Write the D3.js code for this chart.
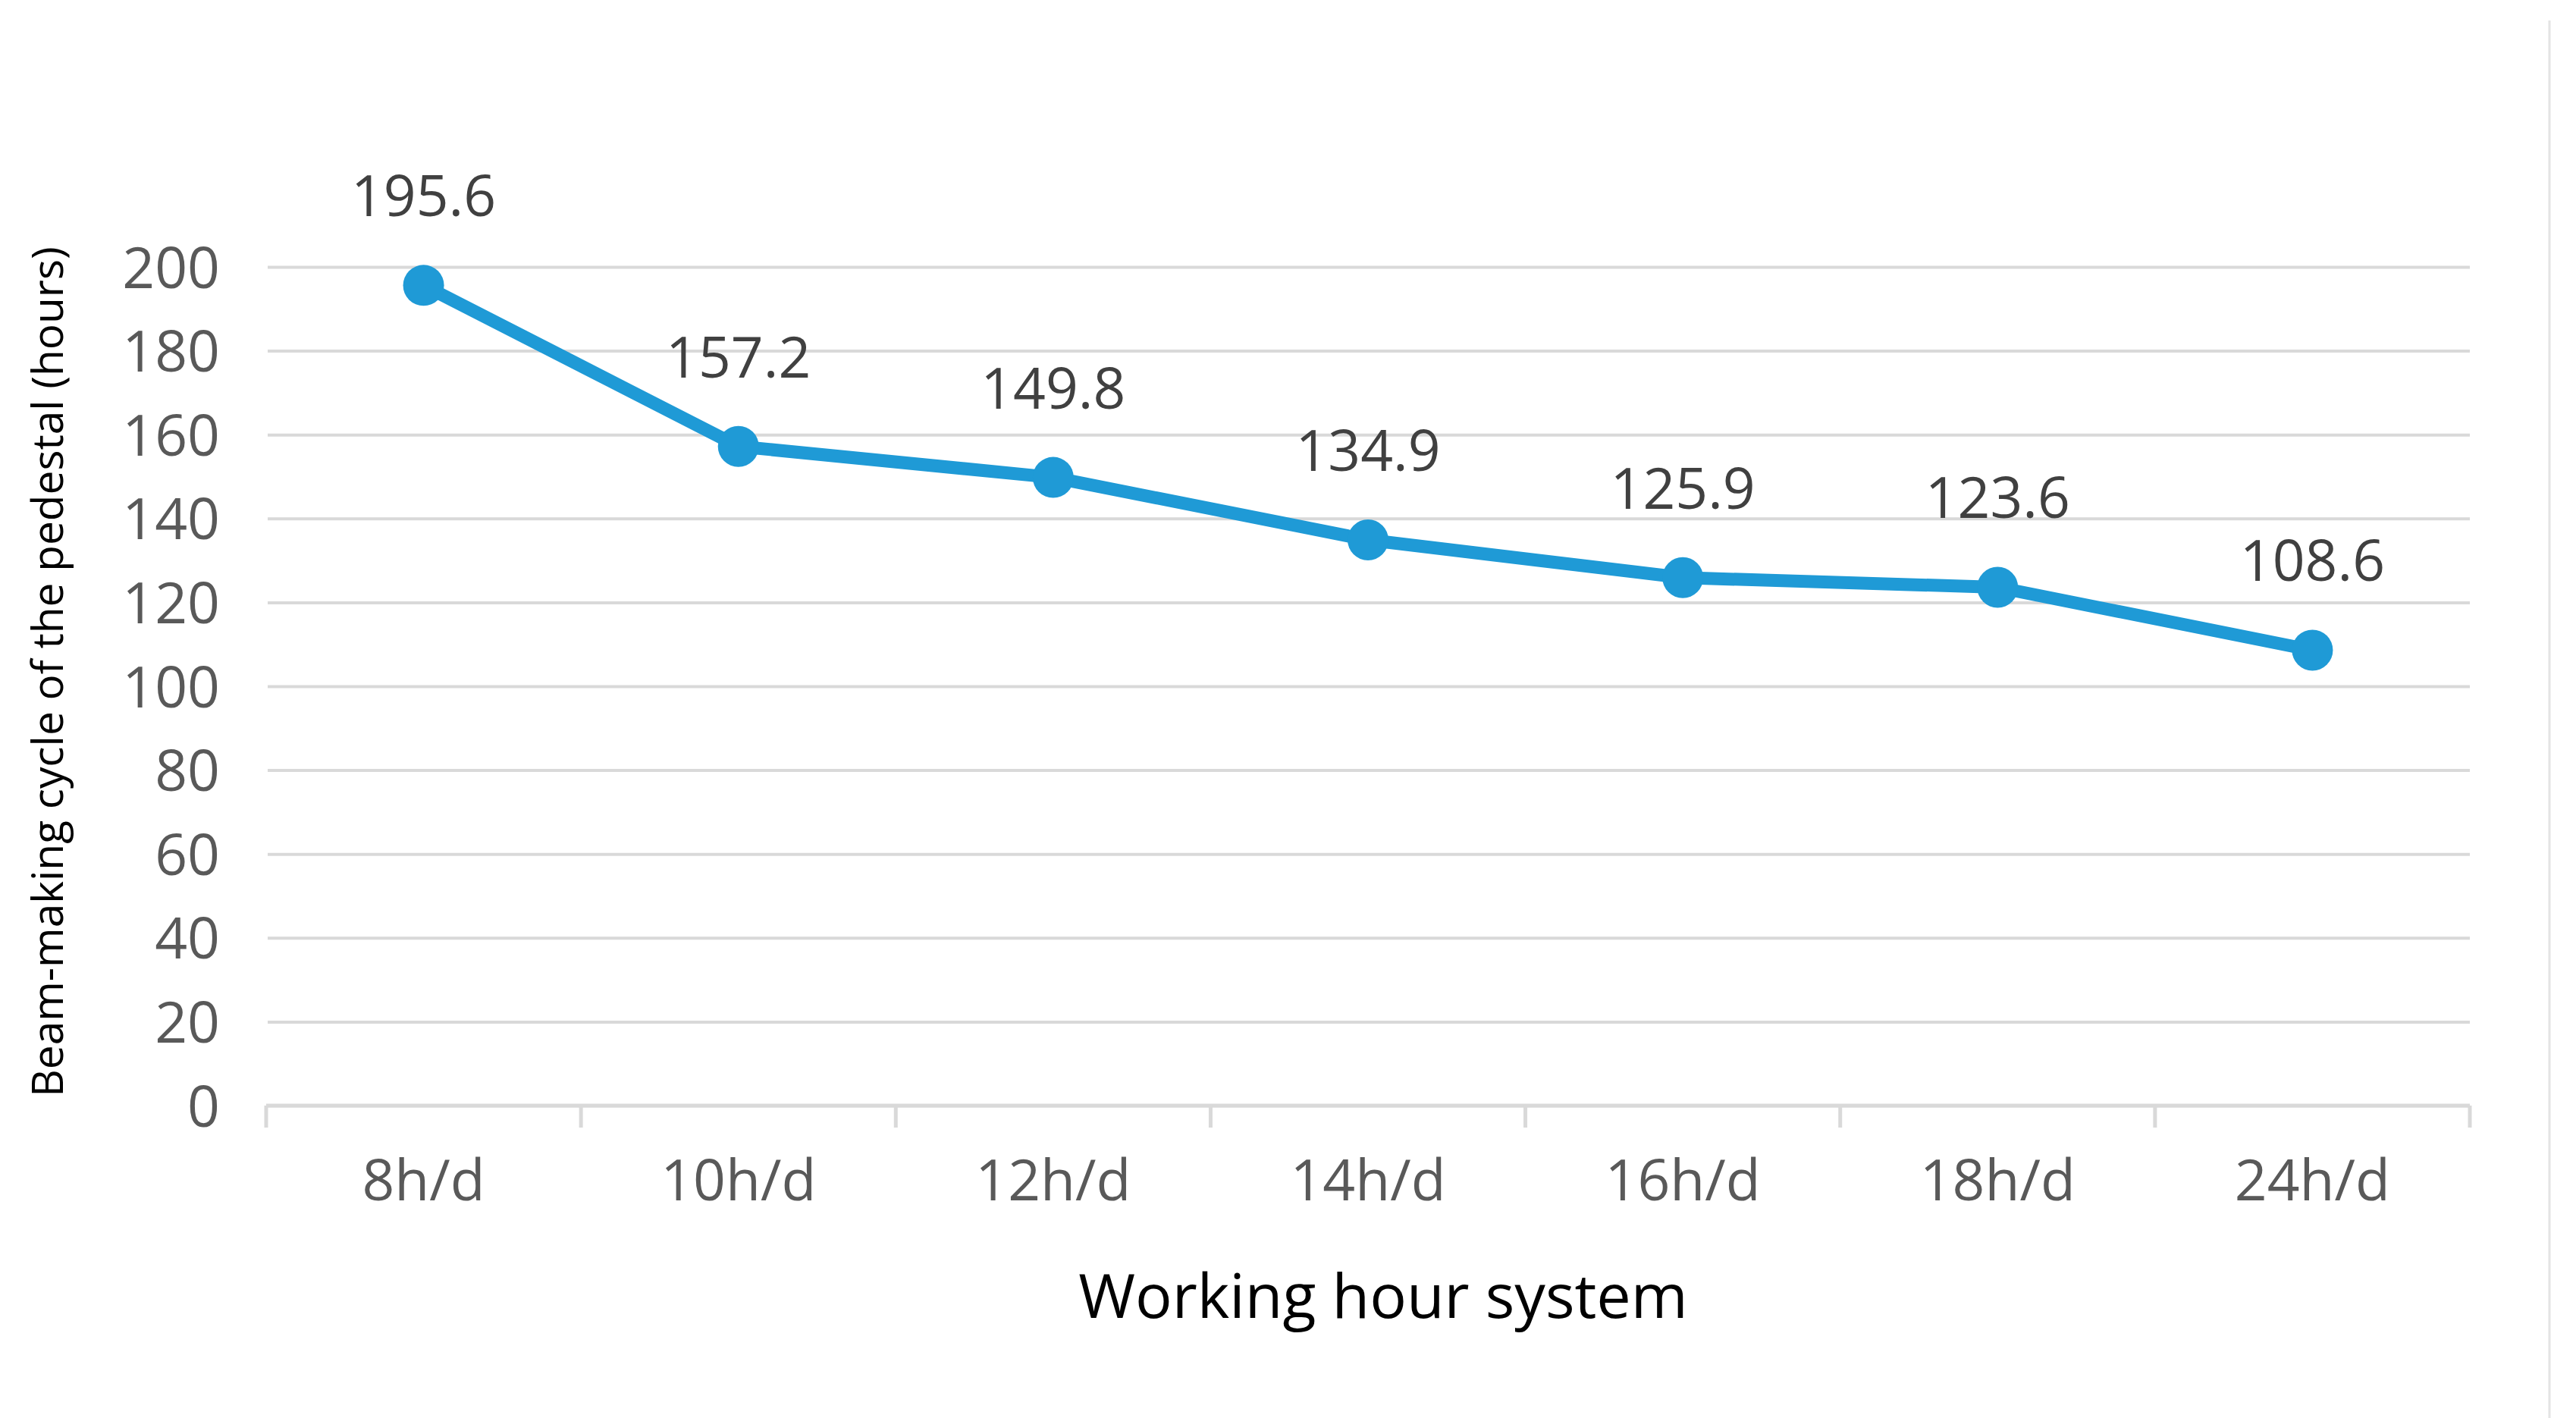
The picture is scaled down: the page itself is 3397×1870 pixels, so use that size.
<!DOCTYPE html>
<html>
<head>
<meta charset="utf-8">
<script src="https://cdn.jsdelivr.net/npm/d3@7"></script>
<style>
  html, body { margin: 0; padding: 0; background: #fff; }
  svg { display: block; }
</style>
</head>
<body>
<svg id="chart" width="3397" height="1870"></svg>
<script>
const categories = ["8h/d", "10h/d", "12h/d", "14h/d", "16h/d", "18h/d", "24h/d"];
const cycleHours = [195.6, 157.2, 149.8, 134.9, 125.9, 123.6, 108.6];
const yTicks = [0, 20, 40, 60, 80, 100, 120, 140, 160, 180, 200];
const xTitle = "Working hour system";
const yTitle = "Beam-making cycle of the pedestal (hours)";

(function () {
const W = 3397, H = 1870;
const pLeft = 351, pRight = 3257, pTop = 352, pBottom = 1458;
const font = "'Open Sans', 'Noto Sans', sans-serif";
const lineColor = "#1f9ad6";
const gridColor = "#d9d9d9";

const svg = d3.select("#chart");
svg.append("rect").attr("width", W).attr("height", H).attr("fill", "#fff");

const x = d3.scaleBand().domain(categories).range([pLeft, pRight]).padding(0);
const y = d3.scaleLinear().domain([0, 200]).range([pBottom, pTop]);

// right border
svg.append("line").attr("x1", 3362).attr("x2", 3362).attr("y1", 27).attr("y2", H)
  .attr("stroke", "#e4e4e4").attr("stroke-width", 3);

// Y axis with gridlines
const yAxis = svg.append("g").attr("transform", `translate(${pLeft},0)`)
  .call(d3.axisLeft(y).tickValues(yTicks).tickSize(-(pRight - pLeft)).tickPadding(61).tickFormat(d3.format("d")));
yAxis.select(".domain").remove();
yAxis.selectAll(".tick line").attr("stroke", gridColor).attr("stroke-width", 4).attr("x1", 2);
yAxis.selectAll(".tick text").attr("font-family", font).attr("font-size", 75)
  .attr("fill", "#595959").attr("dy", "0.36em");

// X axis
const xAxis = svg.append("g").attr("transform", `translate(0,${pBottom})`)
  .call(d3.axisBottom(x).tickSize(0).tickPadding(0));
xAxis.select(".domain").remove();
xAxis.selectAll(".tick text").attr("font-family", font).attr("font-size", 75)
  .attr("fill", "#595959").attr("dy", 0).attr("y", 125);
svg.append("line").attr("x1", pLeft).attr("x2", pRight).attr("y1", pBottom).attr("y2", pBottom)
  .attr("stroke", gridColor).attr("stroke-width", 5);
const bounds = categories.map(c => x(c)).concat([x(categories[categories.length - 1]) + x.bandwidth()]);
svg.append("g").selectAll("line").data(bounds).join("line")
  .attr("x1", d => d).attr("x2", d => d).attr("y1", pBottom).attr("y2", pBottom + 29)
  .attr("stroke", gridColor).attr("stroke-width", 5);

// line + markers
const cx = (d, i) => x(categories[i]) + x.bandwidth() / 2;
const line = d3.line().x((d, i) => cx(d, i)).y(d => y(d));
svg.append("path").datum(cycleHours).attr("d", line).attr("fill", "none")
  .attr("stroke", lineColor).attr("stroke-width", 17).attr("stroke-linejoin", "round");
svg.append("g").selectAll("circle").data(cycleHours).join("circle")
  .attr("cx", cx).attr("cy", d => y(d)).attr("r", 27).attr("fill", lineColor);

// data labels
svg.append("g").selectAll("text").data(cycleHours).join("text")
  .attr("x", cx).attr("y", d => y(d) - 91)
  .attr("text-anchor", "middle").attr("font-family", font).attr("font-size", 75)
  .attr("fill", "#404040").text(d => d.toFixed(1));

// axis titles
svg.append("text").attr("x", 1824).attr("y", 1738).attr("text-anchor", "middle")
  .attr("font-family", font).attr("font-size", 81).attr("fill", "#000").text(xTitle);

const yt = svg.append("text").attr("transform", `translate(83,886) rotate(-90)`)
  .attr("text-anchor", "middle").attr("font-family", font).attr("font-size", 60)
  .attr("fill", "#000").text(yTitle);
const len = yt.node().getComputedTextLength();
yt.attr("font-size", 60 * 1122 / len);
})();
</script>
</body>
</html>
